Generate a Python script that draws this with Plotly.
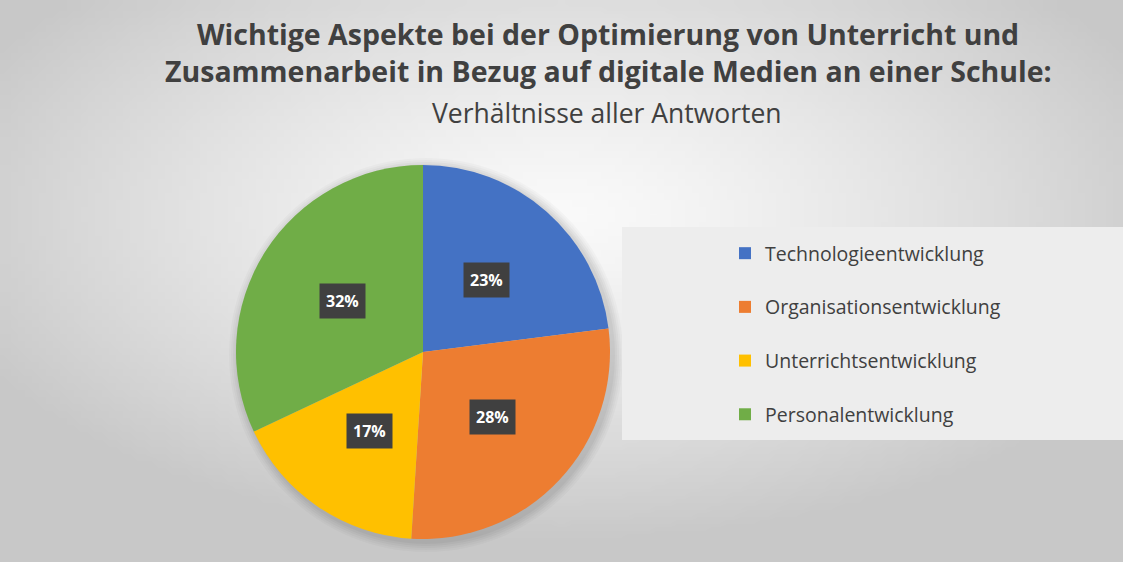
import math, zlib, struct, base64
import plotly.graph_objects as go

# ---- data ----
categories = ["Technologieentwicklung", "Organisationsentwicklung",
              "Unterrichtsentwicklung", "Personalentwicklung"]
values = [23, 28, 17, 32]
colors = ["#4472C4", "#ED7D31", "#FFC000", "#70AD47"]

title_line1 = "Wichtige Aspekte bei der Optimierung von Unterricht und"
title_line2 = "Zusammenarbeit in Bezug auf digitale Medien an einer Schule:"
subtitle = "Verhältnisse aller Antworten"

W, H = 1123, 562
FONT = "Open Sans"
TXT = "#404040"

# ---- radial gradient background (generated PNG) ----
def gradient_png(w=160, h=80, cx=0.5, cy=0.38):
    rows = []
    for j in range(h):
        row = bytearray([0])
        for i in range(w):
            dx = (i / (w - 1) - cx) / 0.5
            dy = (j / (h - 1) - cy) / 0.5
            d = math.sqrt(dx * dx + dy * dy)
            v = 250 - 40 * (d ** 1.3)
            v = max(200, min(250, v))
            row.append(int(v))
        rows.append(bytes(row))
    raw = b"".join(rows)
    def chunk(t, data):
        c = struct.pack(">I", len(data)) + t + data
        return c + struct.pack(">I", zlib.crc32(t + data) & 0xffffffff)
    png = b"\x89PNG\r\n\x1a\n"
    png += chunk(b"IHDR", struct.pack(">IIBBBBB", w, h, 8, 0, 0, 0, 0))
    png += chunk(b"IDAT", zlib.compress(raw, 9))
    png += chunk(b"IEND", b"")
    return "data:image/png;base64," + base64.b64encode(png).decode()

# ---- pie geometry (pixels) ----
cx_px, cy_px, R_px = 423, 352, 187
dom_x = [(cx_px - R_px) / W, (cx_px + R_px) / W]
dom_y = [1 - (cy_px + R_px) / H, 1 - (cy_px - R_px) / H]

# legend labels with an extra blank line to mimic wide row spacing
legend_labels = [c + "<br> " for c in categories]

fig = go.Figure()
fig.add_trace(go.Pie(
    labels=legend_labels,
    values=values,
    sort=False,
    direction="clockwise",
    rotation=0,
    marker=dict(colors=colors, line=dict(width=0)),
    textinfo="none",
    hoverinfo="label+percent",
    domain=dict(x=dom_x, y=dom_y),
    showlegend=True,
))

# data labels: dark boxes placed at slice mid-angles
total = sum(values)
annotations = []
cum = 0
for v in values:
    a = 2 * math.pi * (cum + v / 2) / total
    cum += v
    px = cx_px + 0.51 * R_px * math.sin(a)
    py = cy_px - 0.51 * R_px * math.cos(a)
    annotations.append(dict(
        x=px / W, y=1 - py / H, xref="paper", yref="paper",
        text=f"<b>{round(100 * v / total)}%</b>", showarrow=False,
        font=dict(family=FONT, size=16, color="white"),
        bgcolor="#404040", borderpad=6,
        xanchor="center", yanchor="middle",
    ))

# titles
annotations += [
    dict(x=608 / W, y=1 - 34 / H, xref="paper", yref="paper", showarrow=False,
         text=f"<b>{title_line1}</b>", xanchor="center", yanchor="middle",
         font=dict(family=FONT, size=28.5, color=TXT)),
    dict(x=608 / W, y=1 - 71 / H, xref="paper", yref="paper", showarrow=False,
         text=f"<b>{title_line2}</b>", xanchor="center", yanchor="middle",
         font=dict(family=FONT, size=28.5, color=TXT)),
    dict(x=607 / W, y=1 - 113 / H, xref="paper", yref="paper", showarrow=False,
         text=subtitle, xanchor="center", yanchor="middle",
         font=dict(family=FONT, size=26.5, color=TXT)),
]

# soft shadow behind the pie
shapes = []
for k, op in enumerate([0.025, 0.025, 0.03, 0.03, 0.035]):
    r = R_px + 10 - 2 * k
    shapes.append(dict(type="circle", xref="paper", yref="paper",
                       x0=(cx_px + 3 - r) / W, x1=(cx_px + 3 + r) / W,
                       y0=1 - (cy_px + 3 + r) / H, y1=1 - (cy_px + 3 - r) / H,
                       fillcolor=f"rgba(0,0,0,{op})", line=dict(width=0),
                       layer="below"))
shapes.append(dict(type="rect", xref="paper", yref="paper",
                   x0=622 / W, x1=1, y0=1 - 440 / H, y1=1 - 227 / H,
                   fillcolor="#EDEDED", line=dict(width=0), layer="below"))

fig.update_layout(
    width=W, height=H,
    margin=dict(l=0, r=0, t=0, b=0),
    paper_bgcolor="#E6E6E6",
    plot_bgcolor="rgba(0,0,0,0)",
    images=[dict(source=gradient_png(), xref="paper", yref="paper",
                 x=0, y=1, sizex=1, sizey=1, xanchor="left", yanchor="top",
                 sizing="stretch", layer="below")],
    shapes=shapes,
    legend=dict(x=725 / W, y=1 - 234 / H, xanchor="left", yanchor="top",
                bgcolor="rgba(0,0,0,0)", valign="top",
                font=dict(family=FONT, size=19.5, color=TXT),
                itemclick=False),
    annotations=annotations,
)

fig.write_html("out.html", config={"displayModeBar": False},
               post_script="document.body.style.margin='0';")
